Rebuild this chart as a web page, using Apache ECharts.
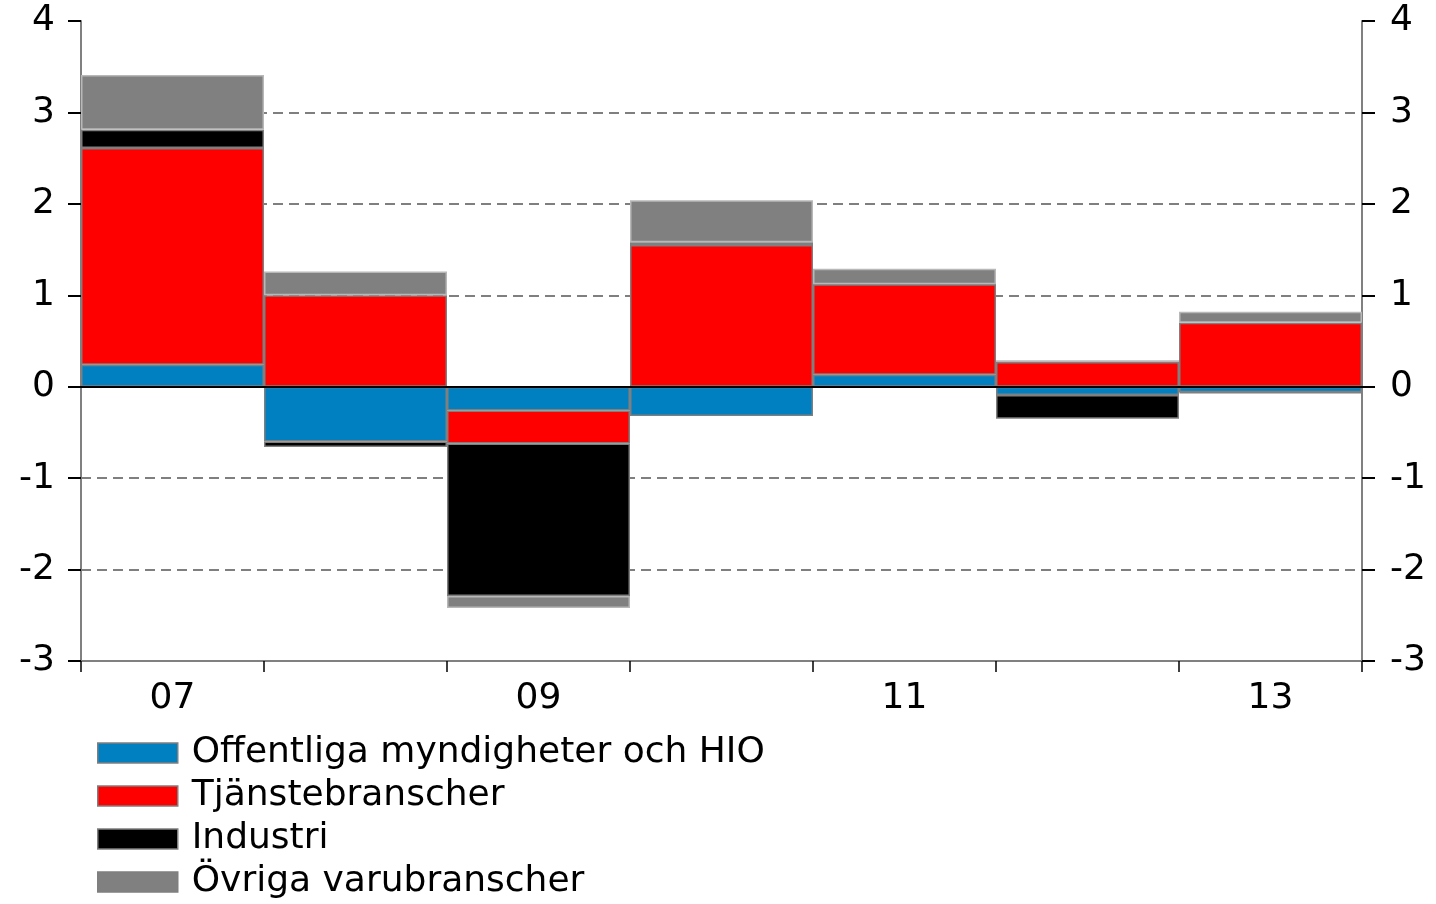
<!DOCTYPE html>
<html>
<head>
<meta charset="utf-8">
<script src="https://cdn.jsdelivr.net/npm/echarts@6/dist/echarts.min.js"></script>
<style>
  html, body { margin: 0; padding: 0; background: #fff; }
  #chart { width: 1436px; height: 904px; }
</style>
</head>
<body>
<div id="chart"></div>
<script>
// år (2007-2013)
const categories = ['07', '08', '09', '10', '11', '12', '13']

const offentliga = [0.24, -0.60, -0.26, -0.32, 0.13, -0.09, -0.06]
const tjanste = [2.37, 1.00, -0.36, 1.55, 0.99, 0.27, 0.70]
const industri = [0.20, -0.06, -1.67, 0.03, 0.00, -0.26, -0.01]
const ovriga = [0.60, 0.26, -0.13, 0.46, 0.17, 0.02, 0.12]

const yTicks = [-3, -2, -1, 0, 1, 2, 3, 4]
// streckade stödlinjer (ej vid -3, 0 och 4)
const gridLines = [-2, -1, 1, 2, 3]

const font = 'DejaVu Sans'
const fontSize = 36

const chart = echarts.init(document.getElementById('chart'))

function bar(name, data, color, border) {
  return {
    name: name,
    type: 'bar',
    stack: 'total',
    data: data,
    barCategoryGap: 0,
    itemStyle: { color: color, borderColor: border, borderWidth: 1.5 },
    emphasis: { disabled: true }
  }
}

const series = [
  bar('Offentliga myndigheter och HIO', offentliga, '#0080c0', '#7f7f7f'),
  bar('Tjänstebranscher', tjanste, '#ff0000', '#7f7f7f'),
  bar('Industri', industri, '#000000', '#7f7f7f'),
  bar('Övriga varubranscher', ovriga, '#808080', '#b8b8b8')
]
series[0].markLine = {
  silent: true,
  symbol: 'none',
  label: { show: false },
  lineStyle: { color: '#7f7f7f', width: 2, type: [10, 6] },
  data: gridLines.map(v => ({ yAxis: v })),
  z: 0
}
// nollinje
series[3].markLine = {
  silent: true,
  symbol: 'none',
  label: { show: false },
  lineStyle: { color: '#000', width: 2, type: 'solid' },
  data: [{ yAxis: 0 }],
  z: 10
}

const yAxisBase = {
  type: 'value',
  min: yTicks[0],
  max: yTicks[yTicks.length - 1],
  interval: 1,
  axisLine: { show: true, lineStyle: { color: '#808080', width: 2 } },
  axisTick: { show: true, length: 13, lineStyle: { color: '#000', width: 2 } },
  axisLabel: { fontFamily: font, fontSize: fontSize, color: '#000' },
  splitLine: { show: false }
}

chart.setOption({
  animation: false,
  textStyle: { fontFamily: font },
  grid: { left: 81, right: 74, top: 21, bottom: 243 },
  legend: {
    orient: 'vertical',
    left: 97,
    top: 735,
    padding: 0,
    itemWidth: 80,
    itemHeight: 20,
    itemGap: 7,
    icon: 'rect',
    itemStyle: { borderColor: '#7f7f7f', borderWidth: 1.5 },
    textStyle: { fontFamily: font, fontSize: fontSize, lineHeight: 34, color: '#000', padding: [0, 0, 0, 9] },
    data: series.map(s => s.name)
  },
  xAxis: {
    type: 'category',
    data: categories,
    boundaryGap: true,
    axisLine: { show: true, onZero: false, lineStyle: { color: '#808080', width: 2 } },
    axisTick: { show: true, interval: 0, length: 11, lineStyle: { color: '#000', width: 1.5 } },
    axisLabel: { interval: 1, margin: 20, fontFamily: font, fontSize: fontSize, color: '#000' },
    splitLine: {
      show: true,
      interval: (i) => i === 4,
      lineStyle: { color: '#7f7f7f', width: 2, type: [10, 6] }
    }
  },
  yAxis: [
    Object.assign({}, yAxisBase, {
      position: 'left',
      axisLabel: Object.assign({}, yAxisBase.axisLabel, { margin: 26 })
    }),
    Object.assign({}, yAxisBase, {
      position: 'right',
      axisLabel: Object.assign({}, yAxisBase.axisLabel, { margin: 28 })
    })
  ],
  series: series
})
</script>
</body>
</html>
